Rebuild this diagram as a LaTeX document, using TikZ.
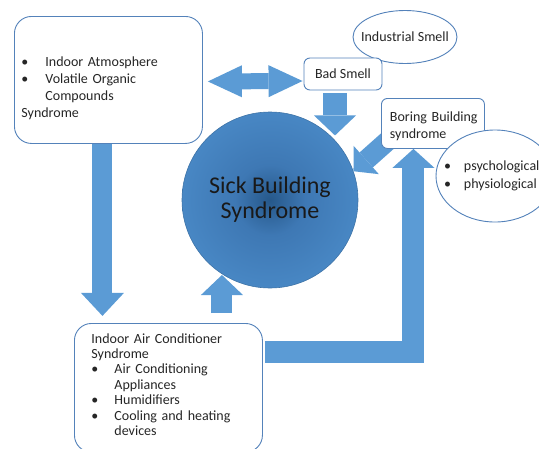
\documentclass[tikz,border=0pt]{standalone}
\usepackage{fontspec}
\setmainfont{Carlito}
\usepackage{tikz}
\usetikzlibrary{shapes.geometric, arrows.meta}

\definecolor{arrowblue}{RGB}{91,155,213}
\definecolor{lineblue}{RGB}{84,130,186}
\definecolor{sbdark}{RGB}{38,88,138}
\definecolor{sbmid}{RGB}{62,120,180}
\definecolor{sbedge}{RGB}{72,135,196}
\pgfdeclareradialshading{sbshade}{\pgfpoint{0bp}{0bp}}{color(0bp)=(sbdark); color(10bp)=(sbmid); color(25bp)=(sbedge); color(50bp)=(sbedge)}

\newcommand\bul[1][23pt]{\makebox[#1][l]{\textbullet}}
\newcommand\nowidth[1]{\makebox[0pt]{#1}}

\begin{document}
\begin{tikzpicture}[x=1pt, y=-1pt,
                    box/.style={draw=lineblue, fill=white, line width=0.9pt, align=left, text=black!85,
                                font=\fontsize{14}{17}\selectfont},
                    bubble/.style={ellipse, draw=lineblue, fill=white, line width=0.9pt, inner sep=0pt,
                                   text=black!85, font=\fontsize{14}{17}\selectfont},
                    blockarrow/.style n args={3}{draw=arrowblue, line width=#1, line join=miter,
                                   arrows={-Triangle[width=#2 0 0, length=#3 0 0, line width=0pt 0 0]}},
                    twoway/.style n args={3}{draw=arrowblue, line width=#1,
                                   arrows={Triangle[width=#2 0 0, length=#3 0 0, line width=0pt 0 0]-Triangle[width=#2 0 0, length=#3 0 0, line width=0pt 0 0]}}]

    \useasboundingbox (0,0) rectangle (539,448);

    \node[bubble, minimum width=104pt, minimum height=53pt] (industrial) at (405,37) {\nowidth{Industrial Smell}};
    \node[box, rounded corners=6pt, minimum width=78pt, minimum height=32pt, align=center] (badsmell) at (343,74) {Bad Smell};

    \node[box, rounded corners=17pt, anchor=north west, minimum width=188pt, minimum height=127pt,
          text width=174pt, inner xsep=7pt, text height=27pt] (atmos) at (14,16)
          {\bul[24pt]Indoor Atmosphere\\ \bul[24pt]Volatile Organic\\ \hspace*{24pt}Compounds\\ Syndrome};

    \node[circle, minimum size=176pt, shade, shading=sbshade, draw=sbedge!85!black, line width=0.6pt,
          align=center, text=black!90, font=\fontsize{24}{25}\selectfont] (sick) at (270,200) {Sick Building\\Syndrome};

    \node[box, rounded corners=17pt, anchor=north west, text width=154pt, inner xsep=17pt, inner ysep=10pt,
          text depth=99pt, font=\fontsize{14}{15.4}\selectfont] (acbox) at (74,323)
          {Indoor Air Conditioner\\ Syndrome\\ \bul Air Conditioning\\ \hspace*{23pt}Appliances\\
           \bul Humidifiers\\ \bul Cooling and heating\\ \hspace*{23pt}devices};

    % block arrows
    \draw[twoway={16pt}{32pt}{34pt}] ([shift={(5,1.5)}]atmos.east) -- ([shift={(-1,7)}]badsmell.west);
    \draw[blockarrow={24pt}{42pt}{20pt}] ([shift={(-8,3)}]badsmell.south) -- ++(0,42);
    \draw[blockarrow={20pt}{43pt}{23pt}] ([xshift=-6]atmos.south) -- ++(0,172);
    \draw[blockarrow={21pt}{42pt}{20pt}] ([shift={(53.5,-10)}]acbox.north) -- ++(0,-38);

    \coordinate (diagstart) at (392,137);
    \draw[blockarrow={20pt}{38pt}{17pt}] (diagstart) -- (sick.19);

    \node[box, rounded corners=6pt, anchor=north west, minimum width=103pt, minimum height=50pt,
          text width=86pt, inner xsep=8.5pt, text height=16pt] (boring) at (381,98) {\mbox{Boring Building}\\syndrome};

    \node[bubble, minimum width=118pt, minimum height=92pt] (psych) at (495,176)
          {\nowidth{\parbox{102pt}{\fontsize{14}{18}\selectfont \bul[20pt]psychological\\ \bul[20pt]physiological}}};

    \draw[blockarrow={22pt}{42pt}{19pt}] ([shift={(2,29)}]acbox.north east) -| ([xshift=-19.5]boring.south);

\end{tikzpicture}
\end{document}
